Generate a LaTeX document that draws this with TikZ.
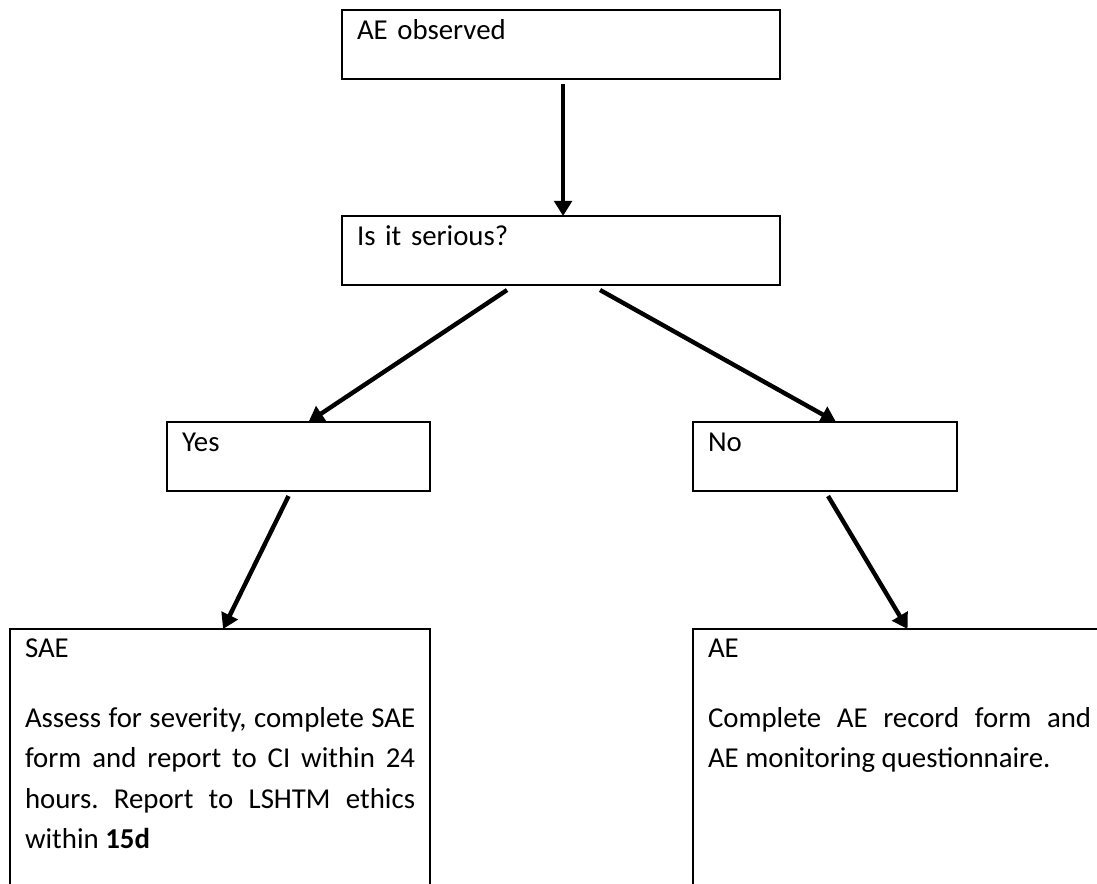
\documentclass[tikz,border=0pt]{standalone}
\usepackage{fontspec}
\setmainfont{Carlito}
\usetikzlibrary{arrows.meta,calc}
\frenchspacing

\begin{document}
\begin{tikzpicture}[x=0.025cm, y=-0.025cm,
  box/.style={draw, line width=0.055cm, rectangle, anchor=north west, inner xsep=0.375cm, inner ysep=0pt, outer sep=0pt, text height=0.73cm, text depth=0.995cm, font=\fontsize{20.5pt}{28.8pt}\selectfont},
  tallbox/.style={box, text height=0.7cm, text depth=7cm, align=justify},
  flow/.style={line width=0.11cm, -{Triangle[length=0.38cm,width=0.44cm]}}]

\useasboundingbox (0,0) rectangle (1097,883);
\clip (0,0) rectangle (1097,883);

\node[box, text width=10.2cm, align=left] (obs) at (342,10) {AE observed};
\node[box, text width=10.2cm, align=left] (q) at (342,216) {Is it serious?};
\node[box, text width=5.825cm, align=left] (yes) at (167,422) {Yes};
\node[box, text width=5.85cm, align=left] (no) at (693,422) {No};

\node[tallbox, text width=9.75cm] (sae) at (10,629)
{SAE\\[21pt]Assess for severity, complete SAE\linebreak form and report to CI within 24\linebreak hours. Report to LSHTM ethics\linebreak within \textbf{15d}};
\node[tallbox, text width=9.575cm] (ae) at (693,629)
{AE\\[21pt]Complete AE record form and\linebreak AE monitoring questionnaire.};

\draw[flow] ($(obs.south)+(2,5)$) -- ($(q.north)+(2,0)$);
\draw[flow] ($(q.south)+(-54,5)$) -- ($(yes.north)+(10,0)$);
\draw[flow] ($(q.south)+(39,5)$) -- ($(no.north)+(11,0)$);
\draw[flow] ($(yes.south)+(-10,5)$) -- ($(sae.north)+(3,0)$);
\draw[flow] ($(no.south)+(3,5)$) -- ($(ae.north)+(8,0)$);

\end{tikzpicture}
\end{document}
